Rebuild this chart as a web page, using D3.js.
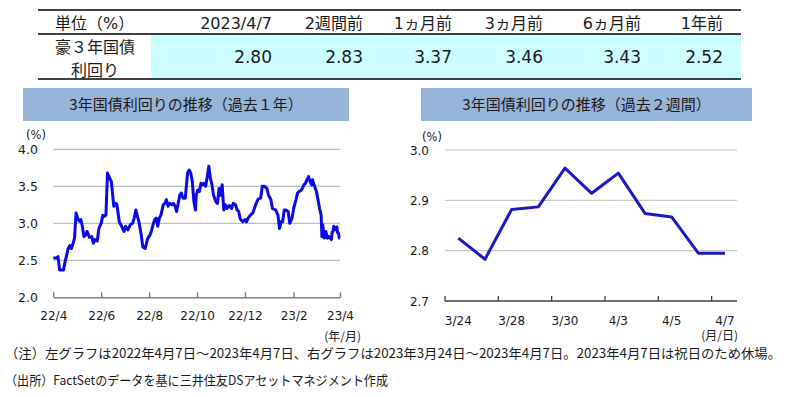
<!DOCTYPE html>
<html>
<head>
<meta charset="utf-8">
<script src="https://cdn.jsdelivr.net/npm/d3@7"></script>
<style>
  body { margin: 0; background: #fff; }
  svg text { font-family: "DejaVu Sans", "Noto Sans CJK JP", sans-serif; fill: #1a1a1a; }
  .jp { font-family: "Noto Sans CJK JP", sans-serif; }
</style>
</head>
<body>
<div id="chart"></div>
<script>
// table
const tableHeaders = ['2023/4/7', '2週間前', '1ヵ月前', '3ヵ月前', '6ヵ月前', '1年前']
const tableValues = ['2.80', '2.83', '3.37', '3.46', '3.43', '2.52']

// left chart: past 1 year
const yearDates = [
  '2022-04-07', '2022-04-11', '2022-04-13', '2022-04-15', '2022-04-20', '2022-04-22', '2022-04-26', '2022-04-28',
  '2022-04-30', '2022-05-02', '2022-05-04', '2022-05-06', '2022-05-08', '2022-05-10', '2022-05-12', '2022-05-14',
  '2022-05-16', '2022-05-18', '2022-05-20', '2022-05-23', '2022-05-26', '2022-05-28', '2022-05-30', '2022-06-02',
  '2022-06-04', '2022-06-07', '2022-06-09', '2022-06-10', '2022-06-13', '2022-06-15', '2022-06-17', '2022-06-20',
  '2022-06-23', '2022-06-26', '2022-06-27', '2022-06-30', '2022-07-03', '2022-07-06', '2022-07-08', '2022-07-11',
  '2022-07-14', '2022-07-17', '2022-07-19', '2022-07-21', '2022-07-23', '2022-07-25', '2022-07-28', '2022-07-30',
  '2022-08-02', '2022-08-05', '2022-08-08', '2022-08-10', '2022-08-12', '2022-08-14', '2022-08-16', '2022-08-18',
  '2022-08-20', '2022-08-22', '2022-08-25', '2022-08-27', '2022-08-29', '2022-08-31', '2022-09-02', '2022-09-05',
  '2022-09-07', '2022-09-09', '2022-09-11', '2022-09-13', '2022-09-15', '2022-09-17', '2022-09-19', '2022-09-22',
  '2022-09-25', '2022-09-27', '2022-09-29', '2022-10-01', '2022-10-03', '2022-10-05', '2022-10-06', '2022-10-08',
  '2022-10-10', '2022-10-12', '2022-10-14', '2022-10-16', '2022-10-18', '2022-10-20', '2022-10-22', '2022-10-24',
  '2022-10-26', '2022-10-28', '2022-10-31', '2022-11-02', '2022-11-04', '2022-11-06', '2022-11-08', '2022-11-10',
  '2022-11-12', '2022-11-14', '2022-11-17', '2022-11-20', '2022-11-22', '2022-11-25', '2022-11-27', '2022-11-29',
  '2022-12-01', '2022-12-04', '2022-12-07', '2022-12-09', '2022-12-11', '2022-12-14', '2022-12-17', '2022-12-19',
  '2022-12-22', '2022-12-24', '2022-12-27', '2022-12-29', '2023-01-01', '2023-01-04', '2023-01-06', '2023-01-09',
  '2023-01-11', '2023-01-15', '2023-01-18', '2023-01-20', '2023-01-22', '2023-01-24', '2023-01-26', '2023-01-28',
  '2023-01-31', '2023-02-02', '2023-02-05', '2023-02-07', '2023-02-10', '2023-02-12', '2023-02-14', '2023-02-16',
  '2023-02-18', '2023-02-20', '2023-02-22', '2023-02-24', '2023-02-26', '2023-02-28', '2023-03-02', '2023-03-03',
  '2023-03-05', '2023-03-08', '2023-03-10', '2023-03-12', '2023-03-14', '2023-03-15', '2023-03-16', '2023-03-18',
  '2023-03-20', '2023-03-22', '2023-03-24', '2023-03-27', '2023-03-28', '2023-03-29', '2023-03-30', '2023-03-31',
  '2023-04-03', '2023-04-04', '2023-04-05', '2023-04-06', '2023-04-07'
]
const yearValues = [
  2.53, 2.53, 2.55, 2.37, 2.37, 2.48, 2.66, 2.70,
  2.66, 2.72, 2.80, 3.14, 3.07, 3.03, 3.05, 2.96,
  2.82, 2.84, 2.89, 2.81, 2.82, 2.73, 2.78, 2.76,
  2.93, 3.00, 3.11, 3.09, 3.11, 3.68, 3.63, 3.56,
  3.23, 3.27, 3.25, 3.02, 2.96, 2.89, 2.96, 2.91,
  2.98, 3.00, 3.07, 3.18, 3.10, 3.02, 2.84, 2.68,
  2.66, 2.79, 2.84, 2.90, 2.98, 3.05, 3.07, 2.96,
  3.07, 3.11, 3.25, 3.27, 3.32, 3.23, 3.27, 3.25,
  3.27, 3.23, 3.16, 3.27, 3.38, 3.41, 3.34, 3.34,
  3.68, 3.72, 3.68, 3.56, 3.29, 3.18, 3.38, 3.45,
  3.43, 3.54, 3.52, 3.54, 3.50, 3.63, 3.77, 3.61,
  3.52, 3.38, 3.29, 3.27, 3.47, 3.38, 3.52, 3.18,
  3.25, 3.20, 3.24, 3.20, 3.27, 3.25, 3.18, 3.16,
  3.06, 3.02, 3.05, 3.02, 3.07, 3.11, 3.14, 3.20,
  3.29, 3.33, 3.34, 3.50, 3.50, 3.47, 3.38, 3.32,
  3.20, 3.18, 3.11, 2.93, 3.02, 3.02, 3.18, 3.18,
  3.16, 3.00, 3.07, 3.20, 3.32, 3.41, 3.43, 3.44,
  3.47, 3.52, 3.54, 3.59, 3.63, 3.56, 3.52, 3.59,
  3.52, 3.43, 3.32, 3.20, 3.11, 2.82, 2.98, 2.80,
  2.89, 2.80, 2.82, 2.78, 2.88, 2.89, 2.96, 2.91,
  2.95, 2.87, 2.87, 2.80, 2.80
]
const yearTicks = ['2022-04-07', '2022-06-07', '2022-08-07', '2022-10-07', '2022-12-07', '2023-02-07', '2023-04-07']
const yearYTicks = [2.0, 2.5, 3.0, 3.5, 4.0]

// right chart: past 2 weeks
const weekDays = ['3/24', '3/27', '3/28', '3/29', '3/30', '3/31', '4/3', '4/4', '4/5', '4/6', '4/7']
const weekValues = [2.825, 2.783, 2.882, 2.887, 2.964, 2.914, 2.954, 2.874, 2.867, 2.795, 2.795]
const weekLabels = ['3/24', '3/28', '3/30', '4/3', '4/5', '4/7']
const weekYTicks = [2.7, 2.8, 2.9, 3.0]

const W = 787
const H = 397
const parse = d3.timeParse('%Y-%m-%d')

const svg = d3.select('#chart')
  .append('svg')
  .attr('width', W)
  .attr('height', H)
svg.append('rect').attr('width', W).attr('height', H).attr('fill', '#fff')

// ---- table
const tbl = svg.append('g')
const colRight = [272, 363, 452, 543, 641, 723]
tbl.append('rect')
  .attr('x', 151).attr('y', 34).attr('width', 741 - 151).attr('height', 45)
  .attr('fill', '#ccffff')
;[10, 34, 79].forEach(y => {
  tbl.append('line')
    .attr('x1', 38).attr('x2', 741).attr('y1', y).attr('y2', y)
    .attr('stroke', '#000').attr('stroke-width', 1.3)
})
tbl.append('text').attr('x', 55).attr('y', 29).attr('font-size', 16).text('単位（%）')
tbl.selectAll('.hd')
  .data(tableHeaders)
  .join('text')
  .attr('x', (d, i) => colRight[i])
  .attr('y', 29)
  .attr('text-anchor', 'end')
  .attr('font-size', 16)
  .text(d => d)
tbl.selectAll('.val')
  .data(tableValues)
  .join('text')
  .attr('x', (d, i) => colRight[i])
  .attr('y', 63)
  .attr('text-anchor', 'end')
  .attr('font-size', 17)
  .text(d => d)
tbl.append('text').attr('x', 95).attr('y', 53).attr('text-anchor', 'middle').attr('font-size', 16).text('豪３年国債')
tbl.append('text').attr('x', 95).attr('y', 76).attr('text-anchor', 'middle').attr('font-size', 16).text('利回り')

// ---- titles
const titles = [
  { x: 23, w: 326, t: '3年国債利回りの推移（過去１年）' },
  { x: 421, w: 331, t: '3年国債利回りの推移（過去２週間）' }
]
titles.forEach(d => {
  svg.append('rect')
    .attr('x', d.x).attr('y', 88).attr('width', d.w).attr('height', 33)
    .attr('fill', '#97b4d9')
  svg.append('text')
    .attr('class', 'jp')
    .attr('x', d.x + d.w / 2).attr('y', 110)
    .attr('text-anchor', 'middle')
    .attr('font-size', 15)
    .text(d.t)
})

// ---- left chart
const xL = d3.scaleTime()
  .domain([parse('2022-04-07'), parse('2023-04-07')])
  .range([53.3, 340])
const yL = d3.scaleLinear().domain([2, 4]).range([297.3, 149.3])

const gL = svg.append('g')
gL.selectAll('.grid')
  .data(yearYTicks.slice(1))
  .join('line')
  .attr('x1', 53.3).attr('x2', 340)
  .attr('y1', d => yL(d)).attr('y2', d => yL(d))
  .attr('stroke', '#b0b0b0').attr('stroke-width', 1)
gL.selectAll('.yl')
  .data(yearYTicks)
  .join('text')
  .attr('x', 38).attr('y', d => yL(d) + 4.5)
  .attr('text-anchor', 'end')
  .attr('font-size', 12.5)
  .text(d => d.toFixed(1))
gL.append('text').attr('x', 36).attr('y', 139).attr('text-anchor', 'middle').attr('font-size', 11.5).text('(%)')

const axL = gL.append('g')
  .attr('transform', `translate(0,${yL(2)})`)
  .call(d3.axisBottom(xL)
    .tickValues(yearTicks.map(parse))
    .tickSize(-5)
    .tickSizeOuter(0)
    .tickFormat(d3.timeFormat('%y/%-m')))
axL.select('.domain').attr('stroke', '#808080').attr('stroke-width', 1.5)
axL.selectAll('.tick line').attr('stroke', '#808080').attr('stroke-width', 1.5)
axL.selectAll('.tick text')
  .attr('dy', null).attr('y', 23)
  .attr('font-size', 12)
  .attr('font-family', '"DejaVu Sans", sans-serif')
  .attr('fill', '#1a1a1a')
gL.append('text').attr('class', 'jp').attr('x', 361).attr('y', 341).attr('text-anchor', 'end').attr('font-size', 12).text('(年/月)')

const yearData = yearDates.map((d, i) => ({ date: parse(d), value: yearValues[i] }))
gL.append('path')
  .datum(yearData)
  .attr('d', d3.line().x(d => xL(d.date)).y(d => yL(d.value)))
  .attr('fill', 'none')
  .attr('stroke', '#0a0ae6')
  .attr('stroke-width', 3)
  .attr('stroke-linejoin', 'round')

// ---- right chart
const xR = d3.scaleBand().domain(weekDays).range([445, 738.3])
const yR = d3.scaleLinear().domain([2.7, 3.0]).range([301, 150])

const gR = svg.append('g')
gR.selectAll('.grid')
  .data(weekYTicks.slice(1))
  .join('line')
  .attr('x1', 445).attr('x2', 737)
  .attr('y1', d => yR(d)).attr('y2', d => yR(d))
  .attr('stroke', '#bdbdbd').attr('stroke-width', 1)
gR.selectAll('.yl')
  .data(weekYTicks)
  .join('text')
  .attr('x', 429).attr('y', d => yR(d) + 4.5)
  .attr('text-anchor', 'end')
  .attr('font-size', 12)
  .text(d => d.toFixed(1))
gR.append('text').attr('x', 432).attr('y', 141).attr('text-anchor', 'middle').attr('font-size', 11.5).text('(%)')

gR.append('line')
  .attr('x1', 445).attr('x2', 737).attr('y1', yR(2.7)).attr('y2', yR(2.7))
  .attr('stroke', '#404040').attr('stroke-width', 1.3)
gR.selectAll('.tk')
  .data(weekLabels)
  .join('line')
  .attr('x1', d => xR(d)).attr('x2', d => xR(d))
  .attr('y1', yR(2.7)).attr('y2', yR(2.7) - 5)
  .attr('stroke', '#404040').attr('stroke-width', 1.3)
gR.selectAll('.xl')
  .data(weekLabels)
  .join('text')
  .attr('x', d => xR(d) + xR.bandwidth() / 2)
  .attr('y', 324.5)
  .attr('text-anchor', 'middle')
  .attr('font-size', 12)
  .text(d => d)
gR.append('text').attr('class', 'jp').attr('x', 738).attr('y', 340).attr('text-anchor', 'end').attr('font-size', 12).text('(月/日)')

gR.append('path')
  .datum(weekValues)
  .attr('d', d3.line().x((d, i) => xR(weekDays[i]) + xR.bandwidth() / 2).y(d => yR(d)))
  .attr('fill', 'none')
  .attr('stroke', '#1a1ac0')
  .attr('stroke-width', 3)
  .attr('stroke-linejoin', 'round')

// ---- notes
svg.append('text')
  .attr('class', 'jp')
  .attr('x', 5).attr('y', 358)
  .attr('font-size', 13)
  .attr('textLength', 776).attr('lengthAdjust', 'spacingAndGlyphs')
  .text('（注）左グラフは2022年4月7日～2023年4月7日、右グラフは2023年3月24日～2023年4月7日。2023年4月7日は祝日のため休場。')
svg.append('text')
  .attr('class', 'jp')
  .attr('x', 5).attr('y', 385)
  .attr('font-size', 13)
  .attr('textLength', 383).attr('lengthAdjust', 'spacingAndGlyphs')
  .text('（出所）FactSetのデータを基に三井住友DSアセットマネジメント作成')
</script>
</body>
</html>
